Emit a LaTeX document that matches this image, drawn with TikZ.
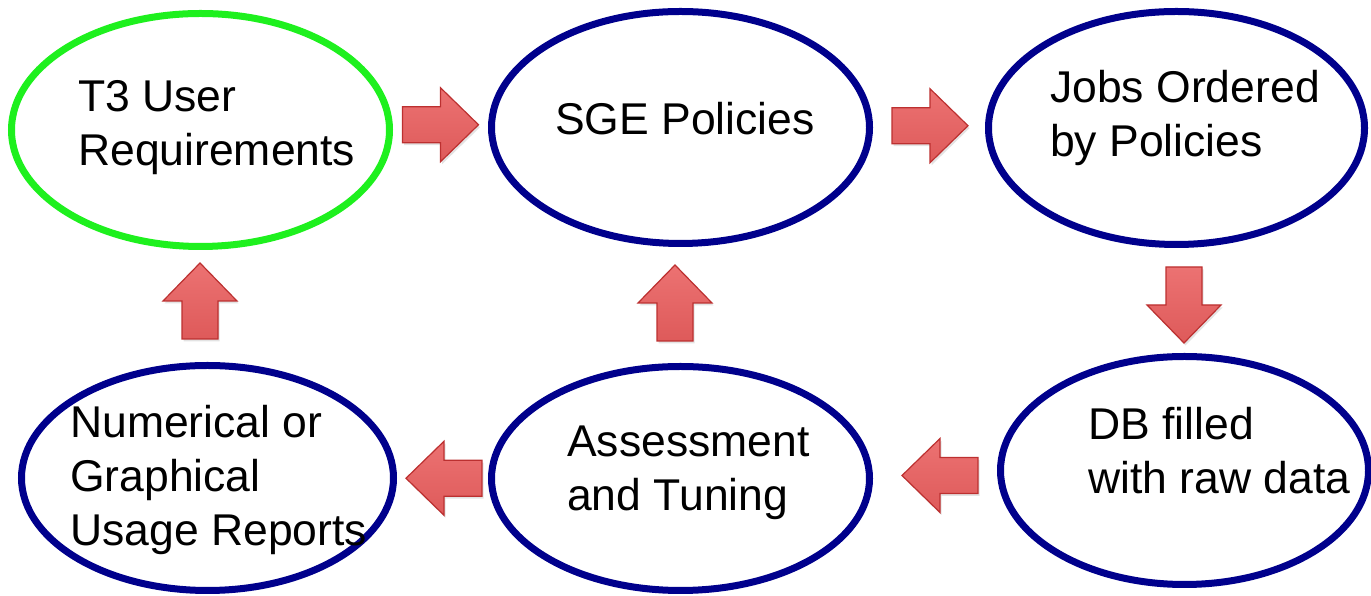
\documentclass[tikz,border=0pt]{standalone}
\usepackage{fontspec}
\setmainfont{Liberation Sans}
\usetikzlibrary{shapes.geometric,calc,shadows}
\definecolor{ringgreen}{RGB}{30,240,30}
\definecolor{ringblue}{RGB}{0,0,140}
\definecolor{arrlight}{RGB}{236,114,114}
\definecolor{arrdark}{RGB}{222,90,90}
\definecolor{arrline}{RGB}{188,48,48}
\begin{document}
\begin{tikzpicture}[x=1pt,y=1pt,
  ringstyle/.style={ellipse, draw=ringblue, line width=7pt, inner sep=0pt, fill=white},
  greenring/.style={ringstyle, draw=ringgreen},
  txt/.style={anchor=base west, inner sep=0pt, font=\fontsize{44.5}{54}\selectfont},
  blockarrow/.pic={\draw[line width=1.2pt, draw=arrline, top color=arrlight, bottom color=arrdark,
      drop shadow={opacity=0.22, shadow xshift=1.5pt, shadow yshift=-2.5pt}]
      (-38,-18) -- (0,-18) -- (0,-37) -- (38,0) -- (0,37) -- (0,18) -- (-38,18) -- cycle;}
]
\useasboundingbox (0,0) rectangle (1371,596);
% ellipses
\node[greenring, minimum width=378pt, minimum height=233pt] (e1) at (200.5,466) {};
\node[ringstyle, minimum width=378pt, minimum height=232pt] (e2) at (680.5,468.5) {};
\node[ringstyle, minimum width=376pt, minimum height=233pt] (e3) at (1176.5,468) {};
\node[ringstyle, minimum width=368pt, minimum height=228pt] (e4) at (1184.5,125.5) {};
\node[ringstyle, minimum width=378pt, minimum height=224pt] (e5) at (680.5,117.5) {};
\node[ringstyle, minimum width=372pt, minimum height=225pt] (e6) at (207.5,118) {};
% texts
\node[txt] (t1) at (78,484) {\begin{tabular}[t]{@{}l@{}}T3 User\\Requirements\end{tabular}};
\node[txt] (t2) at (555,461) {SGE Policies};
\node[txt] (t3) at (1050,493) {\begin{tabular}[t]{@{}l@{}}Jobs Ordered\\by Policies\end{tabular}};
\node[txt] (t4) at (1088,156) {\begin{tabular}[t]{@{}l@{}}DB filled\\with raw data\end{tabular}};
\node[txt] (t5) at (567,139) {\begin{tabular}[t]{@{}l@{}}Assessment\\and Tuning\end{tabular}};
\node[txt] (t6) at (70,158) {\begin{tabular}[t]{@{}l@{}}Numerical or\\Graphical\\Usage Reports\end{tabular}};
% block arrows
\pic at ($(e1.east)!0.5!(e2.west)+(0,4)$) {blockarrow};
\pic at ($(e2.east)!0.5!(e3.west)+(1,2)$) {blockarrow};
\pic[rotate=-90] at ($(e3.south)!0.5!(e4.north)+(3.5,-4.5)$) {blockarrow};
\pic[rotate=180] at ($(e4.west)!0.5!(e5.east)+(5,-1)$) {blockarrow};
\pic[rotate=180] at ($(e5.west)!0.5!(e6.east)+(1.5,0)$) {blockarrow};
\pic[rotate=90] at ($(e6.north)!0.5!(e1.south)+(-4,5)$) {blockarrow};
\pic[rotate=90] at ($(e5.north)!0.5!(e2.south)+(-5.5,2)$) {blockarrow};
\end{tikzpicture}
\end{document}
